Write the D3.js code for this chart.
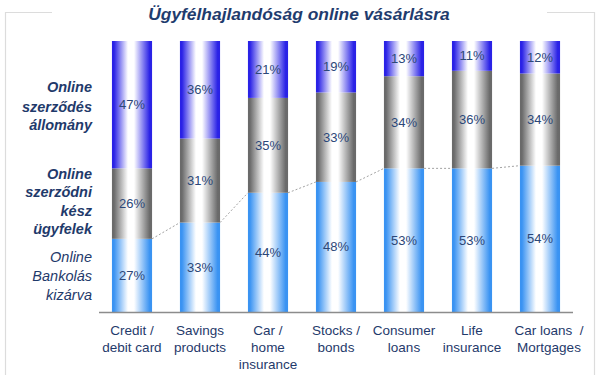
<!DOCTYPE html>
<html><head><meta charset="utf-8">
<script src="https://cdn.jsdelivr.net/npm/d3@7"></script>
<style>body{margin:0;background:#fff}svg{display:block}</style>
</head><body>
<svg id="c" width="600" height="375"></svg>
<script>
const categories = [["Credit /","debit card"],["Savings","products"],["Car /","home","insurance"],["Stocks /","bonds"],["Consumer","loans"],["Life","insurance"],["Car loans\u00a0\u00a0/","Mortgages"]];
const excluded = [27,33,44,48,53,53,54];
const ready = [26,31,35,33,34,36,34];
const existing = [47,36,21,19,13,11,12];
const seriesLabels = [
  {lines:["Online","szerződés","állomány"], bold:true, y:[87,107,125]},
  {lines:["Online","szerződni","kész","ügyfelek"], bold:true, y:[174,192,211,229]},
  {lines:["Online","Bankolás","kizárva"], bold:false, y:[257,276,295]}
];
const title = "Ügyfélhajlandóság online vásárlásra";

const svg = d3.select("#c");
const navy = "#1f3a6b";
const font = "Liberation Sans, Arial, sans-serif";

// frame
svg.append("path").attr("d","M52,12.5H5.5V375").attr("fill","none").attr("stroke","#dcdcdc").attr("stroke-width",1.2);
svg.append("path").attr("d","M547,12.5H594.5V375").attr("fill","none").attr("stroke","#dcdcdc").attr("stroke-width",1.2);

svg.append("text").attr("x",299).attr("y",20).attr("text-anchor","middle")
  .attr("font-family",font).attr("font-size",17.4).attr("font-weight","bold").attr("font-style","italic")
  .attr("fill","#1f3c6e").text(title);

const idx = categories.map((d,i)=>i);
const x = d3.scaleBand().domain(idx).range([98,574]).paddingInner(0.41).paddingOuter(0.205);
const y = d3.scaleLinear().domain([0,100]).range([312,41]);

const defs = svg.append("defs");
function grad(id, c){
  const g = defs.append("linearGradient").attr("id",id).attr("x1","0").attr("x2","1").attr("y1","0").attr("y2","0");
  g.append("stop").attr("offset","0").attr("stop-color",c);
  g.append("stop").attr("offset","0.05").attr("stop-color",c);
  g.append("stop").attr("offset","0.40").attr("stop-color","#ffffff");
  g.append("stop").attr("offset","0.55").attr("stop-color","#ffffff");
  g.append("stop").attr("offset","0.94").attr("stop-color",c);
  g.append("stop").attr("offset","1").attr("stop-color",c);
}
grad("gB","#3a93f2");
grad("gG","#6a6a6a");
grad("gT","#2a22e6");

const stackData = idx.map(i=>({i, a:excluded[i], b:ready[i], c:existing[i]}));
const stack = d3.stack().keys(["a","b","c"])(stackData);
const fills = {a:"url(#gB)", b:"url(#gG)", c:"url(#gT)"};

stack.forEach(layer=>{
  const g = svg.append("g");
  g.selectAll("rect").data(layer).join("rect")
    .attr("x",d=>x(d.data.i)).attr("width",x.bandwidth())
    .attr("y",d=>y(d[1])).attr("height",d=>y(d[0])-y(d[1]))
    .attr("fill",fills[layer.key]);
  g.selectAll("text").data(layer).join("text")
    .attr("x",d=>x(d.data.i)+x.bandwidth()/2)
    .attr("y",d=>(y(d[0])+y(d[1]))/2+4.5)
    .attr("text-anchor","middle").attr("font-family",font).attr("font-size",13)
    .attr("fill","#2c4778").text(d=>d.data[layer.key]+"%");
});

// dashed connectors
const conn = [];
for(let i=0;i<idx.length-1;i++){
  conn.push([x(i)+x.bandwidth(), y(excluded[i]), x(i+1), y(excluded[i+1])]);
}
svg.selectAll("line.conn").data(conn).join("line").attr("class","conn")
  .attr("x1",d=>d[0]).attr("y1",d=>d[1]).attr("x2",d=>d[2]).attr("y2",d=>d[3])
  .attr("stroke","#8a8a8a").attr("stroke-width",0.8).attr("stroke-dasharray","2,2");

// axis line
svg.append("line").attr("x1",99).attr("x2",573).attr("y1",312.5).attr("y2",312.5).attr("stroke","#8c8c8c").attr("stroke-width",1.5);

// category labels
const cg = svg.selectAll("g.cat").data(categories).join("g").attr("class","cat");
cg.each(function(lines,i){
  const dx = i===categories.length-1 ? 9 : 0;
  const t = d3.select(this).append("text").attr("text-anchor","middle")
    .attr("font-family",font).attr("font-size",13.5).attr("fill",navy);
  lines.forEach((l,k)=>{
    t.append("tspan").attr("x",x(i)+x.bandwidth()/2+dx).attr("y",335+k*16.8).text(l);
  });
});

// series labels (left)
seriesLabels.forEach(s=>{
  s.lines.forEach((l,k)=>{
    svg.append("text").attr("x",92).attr("y",s.y[k]+5).attr("text-anchor","end")
      .attr("font-family",font).attr("font-size",14.5)
      .attr("font-weight",s.bold?"bold":"normal").attr("font-style","italic")
      .attr("fill",navy).text(l);
  });
});
</script>
</body></html>
